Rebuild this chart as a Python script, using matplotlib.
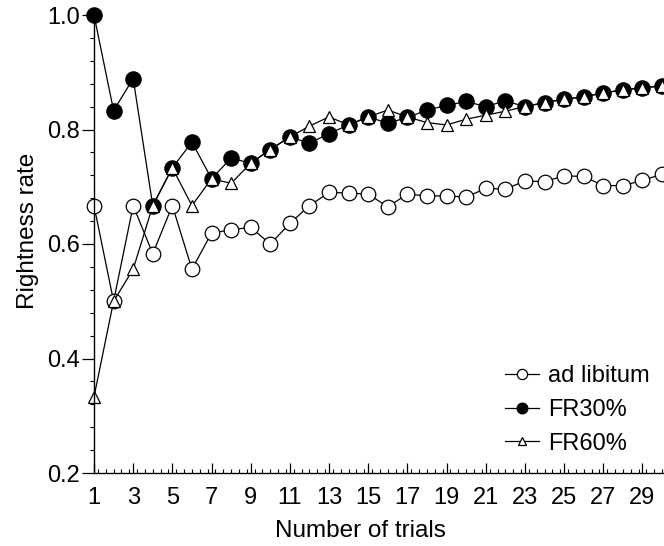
import matplotlib
matplotlib.use("Agg")
import matplotlib.pyplot as plt
from matplotlib.ticker import MultipleLocator

plt.rcParams['font.family'] = ['Liberation Sans', 'DejaVu Sans']

# trial numbers and rightness rates
trials = list(range(1, 31))
ad_libitum = [0.667, 0.5, 0.667, 0.583, 0.667, 0.556, 0.619, 0.625, 0.629, 0.6,
              0.636, 0.667, 0.69, 0.689, 0.687, 0.665, 0.687, 0.684, 0.684, 0.682,
              0.697, 0.696, 0.71, 0.709, 0.719, 0.718, 0.702, 0.702, 0.711, 0.722]
fr30 = [1.0, 0.833, 0.889, 0.667, 0.733, 0.778, 0.714, 0.75, 0.741, 0.765,
        0.787, 0.776, 0.793, 0.808, 0.822, 0.811, 0.821, 0.834, 0.842, 0.849,
        0.84, 0.85, 0.84, 0.847, 0.853, 0.857, 0.864, 0.869, 0.873, 0.876]
fr60 = [0.333, 0.5, 0.556, 0.667, 0.733, 0.667, 0.714, 0.706, 0.741, 0.765,
        0.787, 0.806, 0.822, 0.808, 0.822, 0.834, 0.822, 0.812, 0.808, 0.818,
        0.825, 0.832, 0.84, 0.847, 0.853, 0.857, 0.864, 0.869, 0.873, 0.876]

fig = plt.figure(figsize=(6.64, 5.46), dpi=100)
ax = fig.add_axes([94 / 664, 73 / 546, 1 - 94 / 664, 458 / 546])

lw = 0.9
ax.plot(trials, ad_libitum, color='black', lw=lw, marker='o', ms=10.5,
        mfc='white', mec='black', mew=0.9, label='ad libitum', clip_on=False)
ax.plot(trials, fr30, color='black', lw=lw, marker='o', ms=11,
        mfc='black', mec='black', mew=0.9, label='FR30%', clip_on=False)
ax.plot(trials, fr60, color='black', lw=lw, marker='^', ms=8.5,
        mfc='white', mec='black', mew=0.9, label='FR60%', clip_on=False)

ax.set_xlim(1, 30.1)
ax.set_ylim(0.2, 1.0)
ax.set_xticks(range(1, 31, 2))
ax.xaxis.set_minor_locator(MultipleLocator(0.4))
ax.yaxis.set_major_locator(MultipleLocator(0.2))
ax.yaxis.set_minor_locator(MultipleLocator(0.04))
ax.set_yticklabels([f'{v:.1f}' for v in ax.get_yticks()])

for s in ['top', 'right']:
    ax.spines[s].set_visible(False)
ax.spines['left'].set_linewidth(1.0)
ax.spines['bottom'].set_linewidth(1.0)

ax.tick_params(axis='x', which='major', direction='in', length=7, width=0.9,
               labelsize=17, pad=10)
ax.tick_params(axis='x', which='minor', direction='in', length=3, width=0.8)
ax.tick_params(axis='y', which='major', direction='out', length=9, width=0.9,
               labelsize=17, pad=1)
ax.tick_params(axis='y', which='minor', direction='out', length=3, width=0.8)

ax.set_xlabel('Number of trials', fontsize=17.5)
ax.set_ylabel('Rightness rate', fontsize=17.5)
ax.xaxis.set_label_coords(0.468, -0.103)
ax.yaxis.set_label_coords(-0.096, 0.529)

ax.legend(loc='upper left', bbox_to_anchor=(505 / 664, 181 / 546),
          bbox_transform=fig.transFigure, frameon=False, fontsize=17,
          handlelength=1.44, handletextpad=0.38, labelspacing=0.5,
          borderpad=0, borderaxespad=0, markerscale=0.7)

fig.savefig('out.png', dpi=100)
